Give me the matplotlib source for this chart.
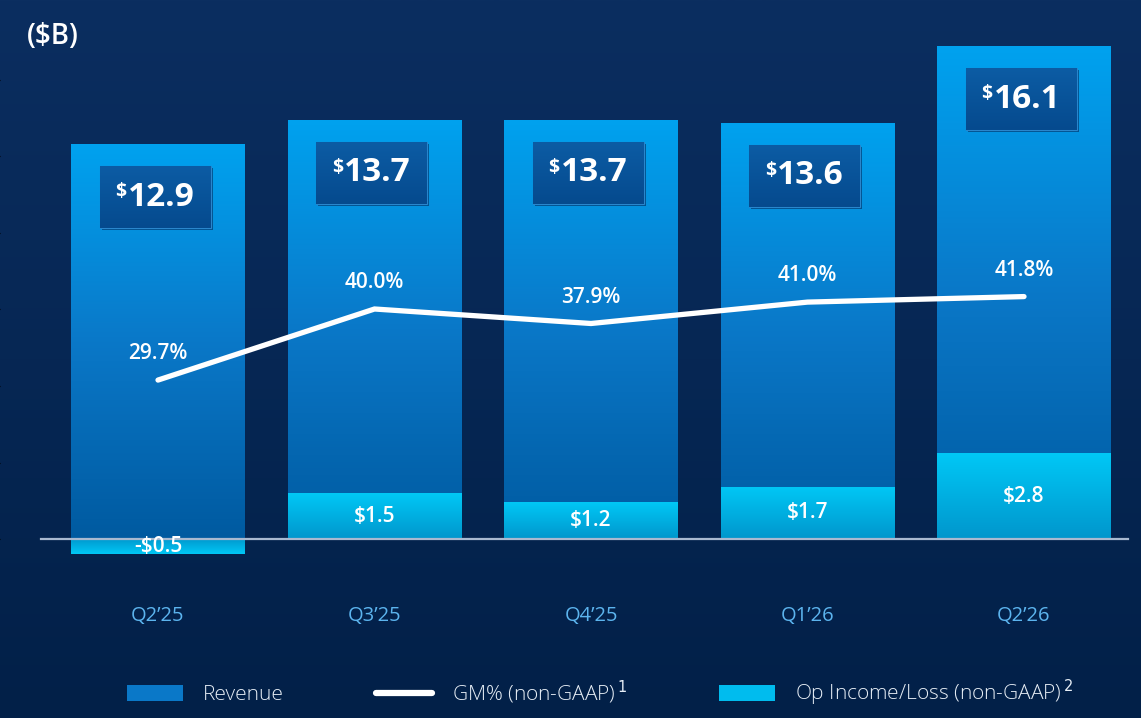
import matplotlib
matplotlib.use('Agg')
import matplotlib.pyplot as plt
import matplotlib.colors as mcolors
from matplotlib.patches import Rectangle, Patch
from matplotlib.lines import Line2D
import numpy as np

# data
quarters = ['Q2\u201925', 'Q3\u201925', 'Q4\u201925', 'Q1\u201926', 'Q2\u201926']
revenue = [12.9, 13.7, 13.7, 13.6, 16.1]
op_income = [-0.5, 1.5, 1.2, 1.7, 2.8]
gm_pct = [29.7, 40.0, 37.9, 41.0, 41.8]

plt.rcParams['font.family'] = ['Open Sans', 'DejaVu Sans']

W, H = 1141, 718
fig = plt.figure(figsize=(W / 100, H / 100), dpi=100)

# background gradient
bg = fig.add_axes([0, 0, 1, 1], zorder=-10)
bg_cmap = mcolors.LinearSegmentedColormap.from_list('bg', ['#022048', '#0b2e60'])
bg.imshow(np.linspace(0, 1, 256).reshape(-1, 1), cmap=bg_cmap, aspect='auto',
          extent=[0, 1, 0, 1], origin='lower')
bg.set_axis_off()

# main axes: pixel 30..585 vertically
ax = fig.add_axes([0, 1 - 585 / H, 1, 555 / H])
ax.patch.set_alpha(0)
x = np.arange(len(quarters))
px_per_x = 216.5
px_per_b = 30.6

rev_cmap = mcolors.LinearSegmentedColormap.from_list('rev', ['#005aa0', '#0a78c8', '#00a2ef'])
op_cmap = mcolors.LinearSegmentedColormap.from_list('op', ['#0096cc', '#00c8f6'])
box_cmap = mcolors.LinearSegmentedColormap.from_list('box', ['#054a8e', '#0c5ca4'])


def grad_fill(ax, patch, cmap, zorder, flip=False):
    x0, y0 = patch.get_x(), patch.get_y()
    w, h = patch.get_width(), patch.get_height()
    grad = np.linspace(0, 1, 256).reshape(-1, 1)
    if flip:
        grad = grad[::-1]
    lo, hi = min(y0, y0 + h), max(y0, y0 + h)
    im = ax.imshow(grad, cmap=cmap, aspect='auto', extent=[x0, x0 + w, lo, hi],
                   origin='lower', zorder=zorder)
    im.set_clip_path(patch)
    patch.set_facecolor('none')


bw = 174 / px_per_x
rev_bars = ax.bar(x, revenue, width=bw, color='#0a78c8', zorder=2, linewidth=0)
for b in rev_bars:
    grad_fill(ax, b, rev_cmap, 2)

op_bars = ax.bar(x, op_income, width=bw, color='#00b4e6', zorder=3, linewidth=0)
for b, v in zip(op_bars, op_income):
    grad_fill(ax, b, op_cmap, 3, flip=v < 0)

ax.set_xlim(-158 / px_per_x, (W - 158) / px_per_x)
ax.set_ylim(-46 / px_per_b, 509 / px_per_b)

# baseline
ax.axhline(0, xmin=41 / W, xmax=1128 / W, color='#a9b9d0', lw=1.6, zorder=4)

# revenue value boxes
box_w = 111 / px_per_x
box_h = 62 / px_per_b
for xi, v in zip(x, revenue):
    top = v - 22 / px_per_b
    cx = xi - 3 / px_per_x
    shadow = Rectangle((cx - box_w / 2 + 2 / px_per_x, top - box_h - 2 / px_per_b), box_w, box_h,
                       facecolor='#002a5c', alpha=0.6, edgecolor='none', zorder=5)
    ax.add_patch(shadow)
    box = Rectangle((cx - box_w / 2, top - box_h), box_w, box_h,
                    facecolor='#0a5aa0', edgecolor='#2a86cc', lw=0.8, zorder=6)
    ax.add_patch(box)
    grad_fill(ax, box, box_cmap, 6)
    box.set_edgecolor('#2a86cc')
    num = ax.text(cx + 6 / px_per_x, top - box_h / 2, f'{v:.1f}', ha='center', va='center',
                  color='white', fontsize=24, fontweight='bold', zorder=7)
    ax.annotate('$', xy=(0, 1), xycoords=num, ha='right', va='top',
                xytext=(-1, -1), textcoords='offset points',
                color='white', fontsize=14, fontweight='bold', zorder=7)

# op income labels
for xi, v in zip(x, op_income):
    lab = f'${v:.1f}' if v >= 0 else f'-${abs(v):.1f}'
    ax.text(xi, v / 2, lab, ha='center', va='center', color='white',
            fontsize=15, fontweight='semibold', zorder=7)

# x ticks
ax.set_xticks(x)
ax.set_xticklabels(quarters)
ax.tick_params(axis='x', length=0, pad=15, labelsize=14.5, labelcolor='#5cb4ee')
ax.tick_params(axis='y', left=False, labelleft=False)
for s in ax.spines.values():
    s.set_visible(False)

# GM% line on twin axis
ax2 = ax.twinx()
ax2.set_ylim(0, 40 + 279 / 6.9)
ax2.plot(x, gm_pct, color='white', lw=3.8, solid_capstyle='round',
         solid_joinstyle='miter', zorder=8)
for xi, g in zip(x, gm_pct):
    ax2.annotate(f'{g:.1f}%', (xi, g), xytext=(0, 19), textcoords='offset points',
                 ha='center', va='center', color='white', fontsize=15,
                 fontweight='semibold')
ax2.set_axis_off()
ax2.set_xlim(ax.get_xlim())

# unit label
fig.text(27 / W, 1 - 36 / H, '($B)', color='white', fontsize=20, fontweight='semibold',
         ha='left', va='center')

# legend
handles = [
    Patch(facecolor='#0a78c8', edgecolor='none', label='Revenue'),
    Line2D([0], [0], color='white', lw=4.5, solid_capstyle='round',
           label='GM% (non-GAAP)$^{\\,1}$'),
    Patch(facecolor='#00bcee', edgecolor='none', label='Op Income/Loss (non-GAAP)$^{\\,2}$'),
]
leg = fig.legend(handles=handles, loc='center', bbox_to_anchor=(600 / W, 1 - 693 / H),
                 ncol=3, frameon=False, prop={'size': 15, 'weight': 'light'},
                 handlelength=2.7, handleheight=0.85, handletextpad=0.95,
                 columnspacing=4.4, labelcolor='#e6edf5')

fig.savefig('out.png', dpi=100)
